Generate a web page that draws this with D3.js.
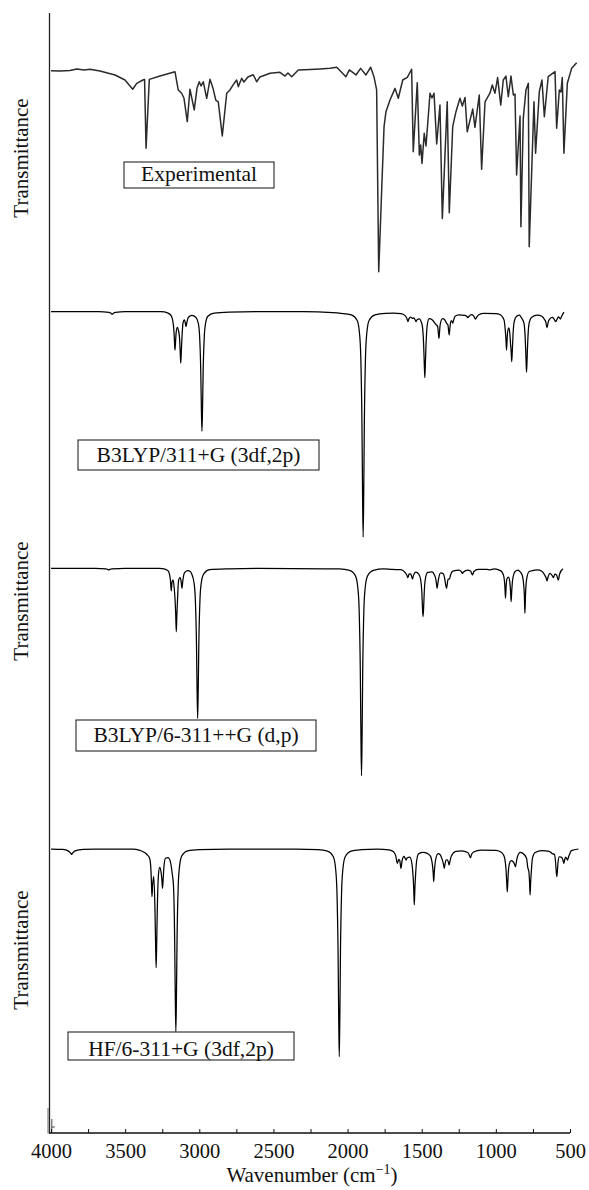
<!DOCTYPE html>
<html><head><meta charset="utf-8">
<script src="https://cdn.jsdelivr.net/npm/d3@7/dist/d3.min.js"></script>
<style>
body{margin:0;background:#fff}
svg{display:block}
text{font-family:"Liberation Serif","Times New Roman",serif;fill:#111}
</style>
</head><body>
<svg id="chart" width="589" height="1190"></svg>
<script>
// ---------- data ----------
const tickLabels = [4000, 3500, 3000, 2500, 2000, 1500, 1000, 500];
const minorTicks = [4000, 3750, 3500, 3250, 3000, 2750, 2500, 2250, 2000, 1750, 1500, 1250, 1000, 750, 500];
const seriesNames = ["Experimental", "B3LYP/311+G (3df,2p)", "B3LYP/6-311++G (d,p)", "HF/6-311+G (3df,2p)"];
const yAxisTitle = "Transmittance";
const xAxisTitle = "Wavenumber (cm";

// [wavenumber cm-1, transmittance %]
const experimental = [
[4000,95.1],[3939,95.0],[3872,95.2],[3825,95.9],[3777,95.5],[3737,95.8],[3670,95.0],[3568,93.2],[3501,90.9],[3449,86.7],[3422,89.4],[3380,90.9],[3369,91.2],[3359,59.9],[3337,91.2],[3265,92.7],[3164,94.7],[3142,86.4],[3119,84.9],[3103,82.6],[3081,72.0],[3063,86.7],[3034,77.3],[3015,87.3],[3000,90.1],[2988,88.2],[2973,90.1],[2950,82.6],[2928,91.2],[2908,87.3],[2889,81.8],[2872,81.0],[2845,65.5],[2815,84.9],[2793,86.4],[2773,88.6],[2748,90.9],[2737,87.9],[2714,91.7],[2699,90.0],[2672,92.3],[2636,93.3],[2613,90.1],[2591,92.3],[2523,94.0],[2456,94.4],[2422,92.7],[2402,94.1],[2377,92.4],[2332,95.5],[2253,95.7],[2186,95.9],[2119,96.2],[2073,96.7],[2011,92.4],[1988,95.5],[1943,93.2],[1912,96.2],[1876,93.2],[1844,96.7],[1822,92.4],[1804,86.4],[1790,3.8],[1770,40.9],[1754,69.7],[1741,76.5],[1714,81.8],[1680,87.1],[1658,82.6],[1628,90.9],[1597,92.1],[1568,95.8],[1557,58.3],[1530,89.7],[1516,56.8],[1507,61.4],[1498,53.0],[1483,66.7],[1471,60.9],[1444,84.9],[1431,82.7],[1417,84.9],[1399,61.8],[1377,79.5],[1361,28.0],[1328,81.0],[1314,30.6],[1291,69.7],[1269,76.5],[1242,82.6],[1226,79.1],[1208,83.0],[1193,67.4],[1156,77.7],[1141,69.4],[1112,84.1],[1096,50.3],[1073,81.0],[1040,84.9],[1024,88.6],[1006,84.9],[988,92.0],[967,79.5],[950,90.9],[932,92.7],[916,83.3],[898,92.7],[882,84.1],[871,84.5],[860,47.7],[837,74.5],[831,24.2],[815,73.5],[797,86.4],[781,89.4],[775,15.1],[743,81.0],[732,57.6],[707,85.6],[689,90.9],[673,74.2],[647,92.4],[601,94.7],[590,69.0],[572,86.4],[561,85.5],[552,92.1],[541,57.6],[518,89.4],[489,96.2],[455,98.8]
];

const b3lyp311 = [
[4000,100],[3680,100],[3610,99.7],[3595,99.3],[3587,98.9],[3579,99.3],[3564,99.7],[3500,100],
[3260,100],[3210,99.4],[3190,98.3],[3180,96.4],[3172,92.5],[3168,88],[3164,83.3],[3160,87],[3156,91],[3148,93.2],[3141,92],[3133,88.5],[3129,83],[3125,77.6],[3121,83],[3117,88.5],[3110,95],[3101,96.5],[3095,95.3],[3089,93.5],[3083,95.6],[3073,97.6],[3050,98.4],[3022,97.5],[3006,94.8],[2998,89.6],[2990,74],[2986,58.4],[2982,48],[2978,58.4],[2974,74],[2966,89.6],[2958,94.8],[2942,98],[2900,99.4],[2800,99.8],[2600,100],
[2300,100],[2100,99.6],[2045,99.3],[1975,98.6],[1935,96.2],[1919,90.2],[1911,80.4],[1903,51],[1899,21.6],[1895,2],[1891,21.6],[1887,51],[1879,80.4],[1871,90.2],[1855,96.2],[1815,98.6],[1745,99.3],[1690,99.4],
[1640,99.2],[1612,98.3],[1600,97],[1593,95.7],[1586,97],[1575,97.6],[1562,97.1],[1552,97.3],[1545,96.5],[1539,95.7],[1532,96.5],[1515,96.9],[1503,95.5],[1495,93.5],[1487,85.6],[1483,78],[1479,71.3],[1475,78],[1471,85.6],[1463,94],[1450,97],[1430,96.5],
[1405,94.5],[1392,93.5],[1388,91],[1384,88.4],[1380,91],[1376,94.2],[1360,97],[1345,96.5],
[1331,94.8],[1323,94.2],[1319,92],[1315,89.9],[1311,92.2],[1303,96],[1297,96],[1291,95],[1285,96.3],[1275,98],[1250,98.6],
[1210,98.4],[1197,98],[1189,97.4],[1181,98],[1165,98.7],[1150,98.2],[1145,97.6],[1137,96.8],[1129,97.6],[1115,98.7],[1080,99.3],[1000,99.2],
[970,98.7],[955,97.7],[944,96.2],[936,91.5],[932,88],[928,83.3],[924,88],[920,91.5],[912,93],[905,90],[901,86],[897,83],[893,78.3],[889,83],[885,89],[877,95.5],[860,98],[840,98.5],
[830,97.6],[815,95.9],[809,94.5],[801,87],[797,80],[793,73.7],[789,80],[785,87],[777,94.5],[760,97.5],[720,98.5],
[690,98],[670,96.4],[663,95.5],[655,93],[647,95.5],[637,96.8],[620,97.5],[610,97],[604,96.4],[596,95.7],[588,96.6],[578,97.7],[572,97.4],[565,96.8],[558,97.8],[541,99.8]
];

const b3lyp6311 = [
[4000,100],[3700,100],[3630,99.8],[3618,99.5],[3611,99.3],[3604,99.5],[3590,99.8],[3500,100],
[3270,100],[3230,99.6],[3210,98.9],[3201,97.5],[3195,95],[3189,90.1],[3184,94],[3177,95],[3170,92],[3163,86],[3159,80],[3155,72.4],[3151,80],[3147,86],[3140,94.5],[3131,96],[3123,94.6],[3117,91.3],[3111,94.6],[3100,98],[3080,99],[3060,98.6],
[3051,97.5],[3035,93.5],[3027,87],[3019,67.4],[3015,48],[3011,34.8],[3007,48],[3003,67.4],[2995,87],[2987,93.5],[2971,97.5],[2931,99.4],[2800,99.8],[2600,100],
[2150,99.8],[2056,99.7],[1986,99.1],[1946,96.6],[1930,91],[1922,82],[1914,54.9],[1910,27.8],[1906,9.8],[1902,27.8],[1898,54.9],[1890,82],[1882,91],[1866,96.6],[1826,99.1],[1756,99.7],[1700,99.5],
[1640,99.4],[1610,98],[1600,97],[1593,95.9],[1586,97.5],[1575,97.6],[1568,96.5],[1562,95.3],[1556,96.8],[1540,98.3],[1520,97.5],[1507,95],[1499,89.5],[1495,83],[1491,79],[1487,83],[1483,89.5],[1475,95.5],[1460,98.2],[1430,98.5],
[1415,97.2],[1404,95],[1400,93],[1396,91.3],[1392,93],[1386,95.5],[1372,98],[1355,97.6],
[1345,95.5],[1340,93.5],[1336,92],[1332,91.3],[1328,93],[1322,95.3],[1313,95.3],[1306,97],[1290,98.8],
[1245,99.2],[1232,98.4],[1225,97.8],[1218,98.4],[1190,99.2],[1170,98.8],[1158,97.1],[1148,98.6],[1120,99.5],[1060,99.5],[1040,99.3],[1010,99.7],
[970,99],[955,98],[945,96],[939,92],[935,87],[931,92],[925,95.5],[915,96.2],[907,94.5],[901,90],[897,85.5],[893,90],[887,95],[870,98.6],[850,99.2],
[840,98.7],[825,97.4],[816,95],[808,88.5],[804,80.4],[800,88.5],[792,95.5],[775,98.6],[720,99.3],
[690,98.7],[670,97],[661,95.8],[655,94.5],[649,96],[635,97.8],[622,97],[612,95.9],[602,97.5],[590,97],[579,94.9],[570,97.5],[548,99.8]
];

const hf6311 = [
[4000,100],[3920,99.8],[3885,99.2],[3870,98.4],[3861,97.7],[3852,98.4],[3837,99.2],[3780,99.8],[3700,100],
[3450,100],[3400,99.4],[3370,98.5],[3350,97.4],[3335,96],[3327,92],[3323,86],[3319,79.3],[3315,84],[3307,88],[3299,74],[3295,60],[3291,48.4],[3287,60],[3283,74],[3275,89],[3267,92],[3258,90],[3252,86.5],[3248,82.9],[3244,86.5],[3238,92.5],[3228,96],[3210,96.3],[3195,94.5],[3182,89],[3174,84],[3166,60.3],[3162,36.5],[3158,20.6],[3154,36.5],[3150,60.3],[3142,84],[3134,92],[3118,97],[3078,99.2],[3000,99.7],[2800,100],
[2350,100],[2200,99.7],[2136,99.1],[2096,96.6],[2080,91],[2072,81.9],[2064,54.9],[2060,27.8],[2056,9.7],[2052,27.8],[2048,54.9],[2040,81.9],[2032,91],[2016,96.6],[1976,99.1],[1906,99.7],[1800,100],
[1720,99.6],[1690,98.8],[1675,97],[1664,93.8],[1655,95.5],[1648,95],[1640,91.6],[1632,95],[1620,96.8],[1612,96],[1605,95.2],[1598,96.2],[1580,96.5],[1566,93.5],[1558,88],[1554,83],[1550,75.7],[1546,83],[1542,88],[1534,95],[1520,98],[1490,98.5],
[1460,98],[1440,96.8],[1431,94.5],[1423,90],[1419,85.8],[1415,90],[1407,95],[1390,98],[1375,97.5],
[1362,95.5],[1352,93],[1348,91.6],[1344,93],[1335,95.2],[1327,95.3],[1319,94],[1315,93],[1311,94.2],[1300,97],[1270,99],[1230,99.2],
[1190,98.5],[1180,97.5],[1172,96.2],[1164,97.6],[1150,98.7],[1100,99.5],[1000,99.4],
[970,98.8],[950,97.6],[939,95.5],[931,90.7],[927,86],[923,81.4],[919,86],[915,90.7],[905,94.3],[895,95],[880,94.2],[872,93],[868,92.3],[864,93.5],[855,96.5],[835,98.5],
[820,98.2],[793,96],[785,92],[777,90],[773,86],[769,80],[765,86],[761,90],[753,96],[735,98.5],[690,99.3],
[640,99],[620,98],[605,97.6],[597,94],[593,90.4],[589,88],[585,90.4],[581,94],[573,96.6],[560,96.5],[549,95.5],[545,94.5],[541,93.8],[537,95],[530,96.5],[524,96],[517,95.2],[510,96.5],[490,99.3],[443,100]
];

// ---------- drawing ----------
const svg = d3.select("#chart");
const x = d3.scaleLinear().domain([4000, 500]).range([51, 570]);

const panels = [
  {data: experimental, range: [280, 60],   curve: d3.curveLinear,    stroke: "#2b2b2b", width: 1.5,
   box: {x0: 124, x1: 274, y0: 162, y1: 188, base: 181}},
  {data: b3lyp311,    range: [541.7, 311.7], curve: d3.curveMonotoneX, stroke: "#000", width: 1.25,
   box: {x0: 78, x1: 319, y0: 440, y1: 470, base: 462}},
  {data: b3lyp6311,   range: [798.3, 568.3], curve: d3.curveMonotoneX, stroke: "#000", width: 1.25,
   box: {x0: 76, x1: 316, y0: 720, y1: 751, base: 742}},
  {data: hf6311,      range: [1079, 849],    curve: d3.curveMonotoneX, stroke: "#000", width: 1.25,
   box: {x0: 68, x1: 294, y0: 1032, y1: 1060, base: 1056}}
];

panels.forEach((p, i) => {
  const y = d3.scaleLinear().domain([0, 100]).range(p.range);
  const line = d3.line().x(d => x(d[0])).y(d => y(d[1])).curve(p.curve);
  svg.append("path").datum(p.data)
    .attr("d", line).attr("fill", "none")
    .attr("stroke", p.stroke).attr("stroke-width", p.width)
    .attr("stroke-linejoin", "round");
  const b = p.box;
  svg.append("rect").attr("x", b.x0).attr("y", b.y0)
    .attr("width", b.x1 - b.x0).attr("height", b.y1 - b.y0)
    .attr("fill", "#fff").attr("stroke", "#111").attr("stroke-width", 1);
  svg.append("text").attr("x", (b.x0 + b.x1) / 2).attr("y", b.base)
    .attr("text-anchor", "middle").attr("font-size", 21.5)
    .text(seriesNames[i]);
});

// y axis line
svg.append("line").attr("x1", 49.5).attr("x2", 49.5).attr("y1", 13).attr("y2", 1133.5)
  .attr("stroke", "#222").attr("stroke-width", 1.3);
svg.append("line").attr("x1", 48).attr("x2", 48).attr("y1", 1108).attr("y2", 1133.5)
  .attr("stroke", "#444").attr("stroke-width", 0.8);
svg.append("path").attr("d", "M51.8,1119V1133M51.8,1127H55").attr("fill", "none")
  .attr("stroke", "#333").attr("stroke-width", 0.9);

// Transmittance labels
[158, 601, 950].forEach(cy => {
  svg.append("text").attr("transform", `translate(28.3,${cy}) rotate(-90)`)
    .attr("text-anchor", "middle").attr("font-size", 21).text(yAxisTitle);
});

// x axis
const xAxis = d3.axisBottom(x).tickValues(minorTicks).tickSizeInner(-4).tickSizeOuter(0).tickPadding(10)
  .tickFormat(d => tickLabels.includes(d) ? String(d) : "");
const gx = svg.append("g").attr("transform", "translate(0,1133)").call(xAxis);
gx.select(".domain").attr("stroke", "#111").attr("stroke-width", 1.3).attr("d", `M${x(4000) - 2},0H${x(500)}`);
gx.selectAll(".tick line").attr("stroke", "#111").attr("stroke-width", 1);
gx.selectAll(".tick text").attr("font-size", 20.5).attr("fill", "#111")
  .attr("font-family", '"Liberation Serif","Times New Roman",serif');

// x title
const t = svg.append("text").attr("x", 312).attr("y", 1182).attr("text-anchor", "middle").attr("font-size", 21);
t.append("tspan").text(xAxisTitle);
t.append("tspan").attr("font-size", 14).attr("dy", -8).text("\u22121");
t.append("tspan").attr("dy", 8).text(")");
</script>
</body></html>
